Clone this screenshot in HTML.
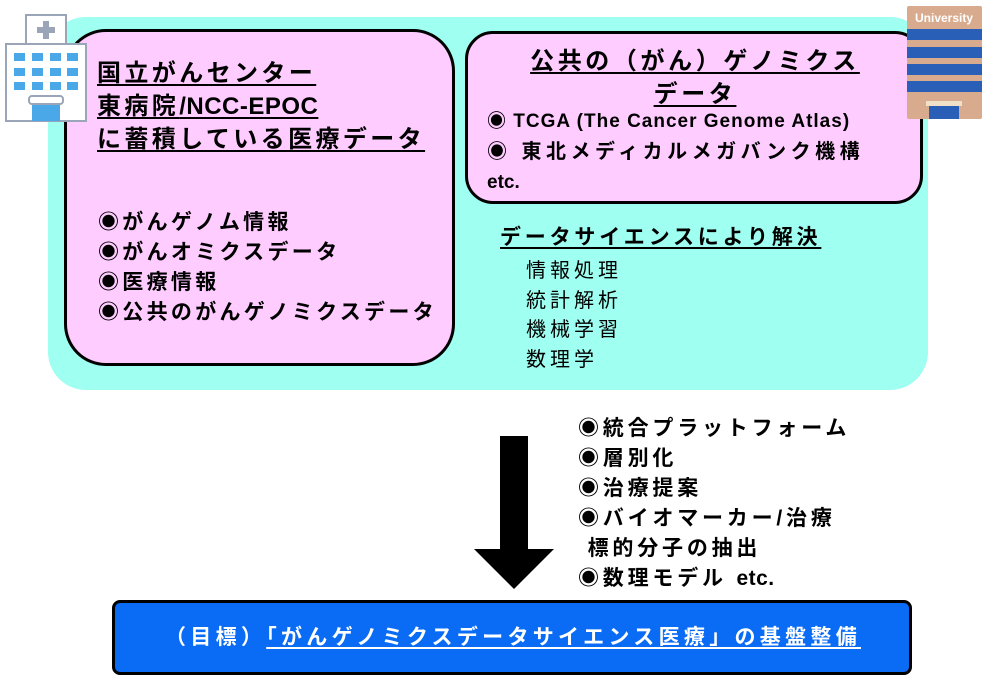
<!DOCTYPE html>
<html><head><meta charset="utf-8"><style>
body{margin:0;width:991px;height:681px;background:#fff;position:relative;overflow:hidden;font-family:"Liberation Sans","Noto Sans CJK JP",sans-serif;font-weight:bold;color:#000}
.a{position:absolute;white-space:nowrap;line-height:1}
.u{text-decoration:underline;text-decoration-thickness:2px;text-underline-offset:3px}
</style></head><body>
<div class="a" style="left:48px;top:17px;width:880px;height:373px;background:#9ffff0;border-radius:38px"></div>
<div class="a" style="left:64px;top:29px;width:385px;height:331px;background:#ffccff;border:3px solid #000;border-radius:42px"></div>
<div class="a" style="left:465px;top:31px;width:452px;height:167px;background:#ffccff;border:3px solid #000;border-radius:28px"></div>

<div class="a u" style="left:97px;top:57px;font-size:24px;line-height:33px;letter-spacing:3.4px">国立がんセンター<br>東病院<span style="letter-spacing:0.5px">/NCC-EPOC</span><br>に蓄積している医療データ</div>
<div class="a" style="left:98px;top:208px;font-size:21px;line-height:30px;letter-spacing:3.3px">◉がんゲノム情報<br>◉がんオミクスデータ<br>◉医療情報<br>◉公共のがんゲノミクスデータ</div>

<div class="a u" style="left:470px;top:45px;width:450px;text-align:center;font-size:24px;line-height:33px;letter-spacing:3.6px">公共の（がん）ゲノミクス<br>データ</div>
<div class="a" style="left:487px;top:112px;font-size:19px;letter-spacing:1px">◉ TCGA (The Cancer Genome Atlas)</div>
<div class="a" style="left:487px;top:142px;font-size:20px;letter-spacing:4.5px">◉ 東北メディカルメガバンク機構</div>
<div class="a" style="left:487px;top:173px;font-size:19px">etc.</div>

<div class="a u" style="left:500px;top:227px;font-size:21px;letter-spacing:3.8px">データサイエンスにより解決</div>
<div class="a" style="left:526px;top:257px;font-size:20px;font-weight:normal;line-height:29.5px;letter-spacing:4px">情報処理<br>統計解析<br>機械学習<br>数理学</div>

<svg class="a" style="left:0;top:0" width="991" height="681">
<rect x="500" y="436" width="28" height="113" fill="#000"/>
<polygon points="474,549 554,549 514,589" fill="#000"/>
<rect x="26" y="15" width="40" height="30" fill="#fff" stroke="#9aa5b8" stroke-width="2"/>
<path d="M43 21h6v6h6v6h-6v6h-6v-6h-6v-6h6z" fill="#9aa5b8"/>
<rect x="6" y="44" width="80" height="77" fill="#fff" stroke="#9aa5b8" stroke-width="2"/>
<g fill="#4aa8e8">
<rect x="14" y="53" width="11" height="8"/><rect x="32" y="53" width="11" height="8"/><rect x="50" y="53" width="11" height="8"/><rect x="67" y="53" width="11" height="8"/>
<rect x="14" y="68" width="11" height="8"/><rect x="32" y="68" width="11" height="8"/><rect x="50" y="68" width="11" height="8"/><rect x="67" y="68" width="11" height="8"/>
<rect x="14" y="82" width="11" height="8"/><rect x="32" y="82" width="11" height="8"/><rect x="50" y="82" width="11" height="8"/><rect x="67" y="82" width="11" height="8"/>
<rect x="32" y="105" width="28" height="16"/></g>
<rect x="29" y="96" width="34" height="8" rx="3" fill="#fff" stroke="#9aa5b8" stroke-width="2"/>
<rect x="907" y="6" width="75" height="113" rx="2" fill="#d9ab8e"/>
<text x="944" y="22" font-size="12" fill="#fff" text-anchor="middle" font-family="Liberation Sans" font-weight="bold">University</text>
<g fill="#2a5fb8"><rect x="907" y="29" width="75" height="11"/><rect x="907" y="47" width="75" height="11"/><rect x="907" y="64" width="75" height="11"/><rect x="907" y="81" width="75" height="11"/><rect x="929" y="106" width="30" height="13"/></g>
<rect x="926" y="101" width="36" height="5" fill="#f0e0c8"/>
</svg>

<div class="a" style="left:578px;top:414px;font-size:21px;line-height:30px;letter-spacing:3.8px">◉統合プラットフォーム<br>◉層別化<br>◉治療提案<br>◉バイオマーカー/治療<br>&nbsp;標的分子の抽出<br>◉数理モデル <span style="letter-spacing:0.5px">etc.</span></div>

<div class="a" style="left:112px;top:600px;width:794px;height:69px;background:#0a6cf5;border:3px solid #000;border-radius:8px"></div>
<div class="a" style="left:165px;top:627px;font-size:21px;letter-spacing:4.3px;color:#fff">（目標）<span class="u">「がんゲノミクスデータサイエンス医療」の基盤整備</span></div>
</body></html>
